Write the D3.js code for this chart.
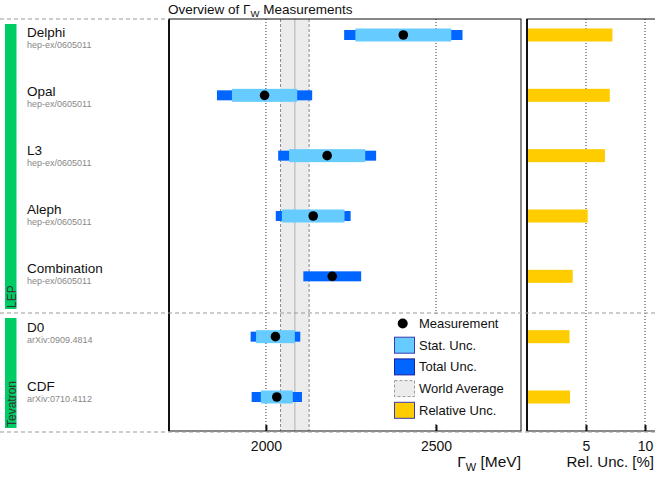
<!DOCTYPE html>
<html>
<head>
<meta charset="utf-8">
<script src="https://cdn.jsdelivr.net/npm/d3@7"></script>
<style>
  body { margin: 0; background: #fff; }
  svg { font-family: "Liberation Sans", Arial, sans-serif; display: block; }
</style>
</head>
<body>
<div id="chart"></div>
<script>
// measurements of the W width (MeV)
var names = ["Delphi", "Opal", "L3", "Aleph", "Combination", "D0", "CDF"];
var refs = ["hep-ex/0605011", "hep-ex/0605011", "hep-ex/0605011", "hep-ex/0605011",
            "hep-ex/0605011", "arXiv:0909.4814", "arXiv:0710.4112"];
var values = [2404, 1996, 2180, 2139, 2195, 2028, 2032];
var statErr = [141, 96, 112, 92, null, 57, 47];
var totalErr = [174, 140, 144, 110, 85, 73, 74];
var groups = ["LEP", "Tevatron"];
var worldAvg = 2085, worldErr = 42;
var xTicks = [2000, 2500];
var relTicks = [5, 10];
var legendItems = ["Measurement", "Stat. Unc.", "Total Unc.", "World Average", "Relative Unc."];

var W = 655, H = 483;
var main = { left: 169, right: 521, top: 19, bottom: 431 };
var side = { left: 527, right: 658 };
// group separator positions (px)
var groupSpan = { LEP: [19, 313], Tevatron: [313, 432] };

var C = {
    stat: "#66ccff",
    total: "#0066ff",
    rel: "#ffcc00",
    green: "#00cc66",
    band: "#ececec"
};

var data = names.map(function(n, i) {
    return {
        name: n, ref: refs[i], v: values[i], stat: statErr[i], tot: totalErr[i],
        rel: totalErr[i] / values[i] * 100
    };
});

var svg = d3.select("#chart").append("svg")
    .attr("width", W)
    .attr("height", H);

var x = d3.scaleLinear().domain([1715, 2750]).range([main.left, main.right]);
var r = d3.scaleLinear().domain([0, 11.1]).range([side.left, side.right]);
var markY = d3.scalePoint().domain(names).range([35, 397]);
var labelY = d3.scalePoint().domain(names).range([37, 391]);

// title
var title = svg.append("text")
    .attr("x", main.left - 1)
    .attr("y", 14)
    .style("font-size", "13.5px")
    .attr("fill", "#111");
title.append("tspan").text("Overview of \u0393");
title.append("tspan").attr("dy", 3).style("font-size", "9.5px").text("W");
title.append("tspan").attr("dy", -3).text(" Measurements");

// world average band
svg.append("rect")
    .attr("x", x(worldAvg - worldErr))
    .attr("y", main.top)
    .attr("width", x(worldAvg + worldErr) - x(worldAvg - worldErr))
    .attr("height", main.bottom - main.top)
    .attr("fill", C.band);
[worldAvg - worldErr, worldAvg + worldErr].forEach(function(v) {
    svg.append("line")
        .attr("x1", x(v)).attr("x2", x(v))
        .attr("y1", main.top).attr("y2", main.bottom)
        .attr("stroke", "#888").attr("stroke-dasharray", "3,2");
});
svg.append("line")
    .attr("x1", x(worldAvg)).attr("x2", x(worldAvg))
    .attr("y1", main.top).attr("y2", main.bottom)
    .attr("stroke", "#c4c4c4").attr("stroke-width", 1.5);

// dotted grid
svg.selectAll(".gridx")
    .data(xTicks)
    .enter().append("line")
    .attr("x1", function(d) { return x(d); })
    .attr("x2", function(d) { return x(d); })
    .attr("y1", main.top).attr("y2", main.bottom)
    .attr("stroke", "#333").attr("stroke-dasharray", "1,2");
svg.selectAll(".gridr")
    .data(relTicks)
    .enter().append("line")
    .attr("x1", function(d) { return r(d); })
    .attr("x2", function(d) { return r(d); })
    .attr("y1", main.top).attr("y2", main.bottom)
    .attr("stroke", "#333").attr("stroke-dasharray", "1,2");

// total + stat bars
svg.selectAll(".tot")
    .data(data)
    .enter().append("rect")
    .attr("x", function(d) { return x(d.v - d.tot); })
    .attr("width", function(d) { return x(d.v + d.tot) - x(d.v - d.tot); })
    .attr("y", function(d) { return markY(d.name) - 5; })
    .attr("height", 10)
    .attr("fill", C.total);
svg.selectAll(".stat")
    .data(data.filter(function(d) { return d.stat != null; }))
    .enter().append("rect")
    .attr("x", function(d) { return x(d.v - d.stat); })
    .attr("width", function(d) { return x(d.v + d.stat) - x(d.v - d.stat); })
    .attr("y", function(d) { return markY(d.name) - 6.5; })
    .attr("height", 13)
    .attr("fill", C.stat);
svg.selectAll(".dot")
    .data(data)
    .enter().append("circle")
    .attr("cx", function(d) { return x(d.v); })
    .attr("cy", function(d) { return markY(d.name); })
    .attr("r", 4.8)
    .attr("fill", "#000");

// relative uncertainty bars
svg.selectAll(".rel")
    .data(data)
    .enter().append("rect")
    .attr("x", r(0))
    .attr("width", function(d) { return r(d.rel) - r(0); })
    .attr("y", function(d) { return markY(d.name) - 6.5; })
    .attr("height", 13)
    .attr("fill", C.rel);

// panel frames
svg.append("rect")
    .attr("x", main.left).attr("y", main.top)
    .attr("width", main.right - main.left).attr("height", main.bottom - main.top)
    .attr("fill", "none").attr("stroke", "#111").attr("stroke-width", 1);
svg.append("line")
    .attr("x1", main.left).attr("x2", main.left)
    .attr("y1", main.top).attr("y2", main.bottom)
    .attr("stroke", "#111").attr("stroke-width", 2);
svg.append("rect")
    .attr("x", side.left).attr("y", main.top)
    .attr("width", side.right - side.left).attr("height", main.bottom - main.top)
    .attr("fill", "none").attr("stroke", "#111").attr("stroke-width", 1);
svg.append("line")
    .attr("x1", side.left).attr("x2", side.left)
    .attr("y1", main.top).attr("y2", main.bottom)
    .attr("stroke", "#111").attr("stroke-width", 2);

// x axes (ticks pointing in)
var xAxis = svg.append("g")
    .attr("transform", "translate(0," + main.bottom + ")")
    .call(d3.axisBottom(x).tickValues(xTicks).tickFormat(d3.format("d"))
        .tickSizeInner(-6).tickSizeOuter(0).tickPadding(10));
var rAxis = svg.append("g")
    .attr("transform", "translate(0," + main.bottom + ")")
    .call(d3.axisBottom(r).tickValues(relTicks).tickFormat(d3.format("d"))
        .tickSizeInner(-6).tickSizeOuter(0).tickPadding(10));
[xAxis, rAxis].forEach(function(a) {
    a.select(".domain").remove();
    a.selectAll(".tick line").attr("stroke", "#111").attr("stroke-width", 2);
    a.selectAll(".tick text")
        .style("font-family", "'Liberation Sans', Arial, sans-serif")
        .style("font-size", "14px")
        .attr("fill", "#111");
});

var xl = svg.append("text")
    .attr("x", main.right)
    .attr("y", 467)
    .attr("text-anchor", "end")
    .style("font-size", "15.5px")
    .attr("fill", "#111");
xl.append("tspan").text("\u0393");
xl.append("tspan").attr("dy", 4).style("font-size", "11px").text("W");
xl.append("tspan").attr("dy", -4).text(" [MeV]");
svg.append("text")
    .attr("x", 654)
    .attr("y", 467)
    .attr("text-anchor", "end")
    .style("font-size", "15px")
    .attr("fill", "#111")
    .text("Rel. Unc. [%]");

// group separators
var sepYs = [groupSpan.LEP[0], groupSpan.LEP[1], groupSpan.Tevatron[1]];
sepYs.forEach(function(yy, i) {
    svg.append("line")
        .attr("x1", 0).attr("x2", i === 0 ? main.left : W)
        .attr("y1", yy).attr("y2", yy)
        .attr("stroke", "#999").attr("stroke-dasharray", "4,3");
});

// group bars and names
groups.forEach(function(g) {
    var s = groupSpan[g];
    svg.append("rect")
        .attr("x", 5).attr("y", s[0] + 5)
        .attr("width", 11.5).attr("height", s[1] - s[0] - 9)
        .attr("fill", C.green);
    svg.append("text")
        .attr("transform", "translate(15.5," + (s[1] - 5) + ") rotate(-90)")
        .style("font-size", "12px")
        .attr("fill", "#333")
        .text(g);
});

// row labels
svg.selectAll(".lab")
    .data(data)
    .enter().append("text")
    .attr("x", 27)
    .attr("y", function(d) { return labelY(d.name); })
    .style("font-size", "13.5px")
    .attr("fill", "#111")
    .text(function(d) { return d.name; });
svg.selectAll(".ref")
    .data(data)
    .enter().append("text")
    .attr("x", 27)
    .attr("y", function(d) { return labelY(d.name) + 10.5; })
    .style("font-size", "9px")
    .attr("fill", "#888")
    .text(function(d) { return d.ref; });

// legend
var lg = svg.append("g").attr("transform", "translate(384,316)");
lg.append("rect")
    .attr("width", 136).attr("height", 106)
    .attr("fill", "#fff");
var item = lg.selectAll(".li")
    .data(legendItems)
    .enter().append("g")
    .attr("transform", function(d, i) { return "translate(0," + (7 + i * 21.7) + ")"; });
item.append("text")
    .attr("x", 35)
    .attr("y", 5)
    .style("font-size", "13px")
    .attr("fill", "#111")
    .text(function(d) { return d; });
item.each(function(d, i) {
    var g = d3.select(this);
    if (i === 0) {
        g.append("circle").attr("cx", 18.7).attr("cy", 0.5).attr("r", 5).attr("fill", "#000");
        return;
    }
    var sw = g.append("rect")
        .attr("x", 10.5).attr("y", -7.5)
        .attr("width", 20).attr("height", 16);
    if (i === 1) sw.attr("fill", C.stat).attr("stroke", "#3a3ab0");
    if (i === 2) sw.attr("fill", C.total).attr("stroke", "#2020a0");
    if (i === 3) sw.attr("fill", C.band).attr("stroke", "#999").attr("stroke-dasharray", "3,2");
    if (i === 4) sw.attr("fill", C.rel).attr("stroke", "#3a3ab0");
});
</script>
</body>
</html>
